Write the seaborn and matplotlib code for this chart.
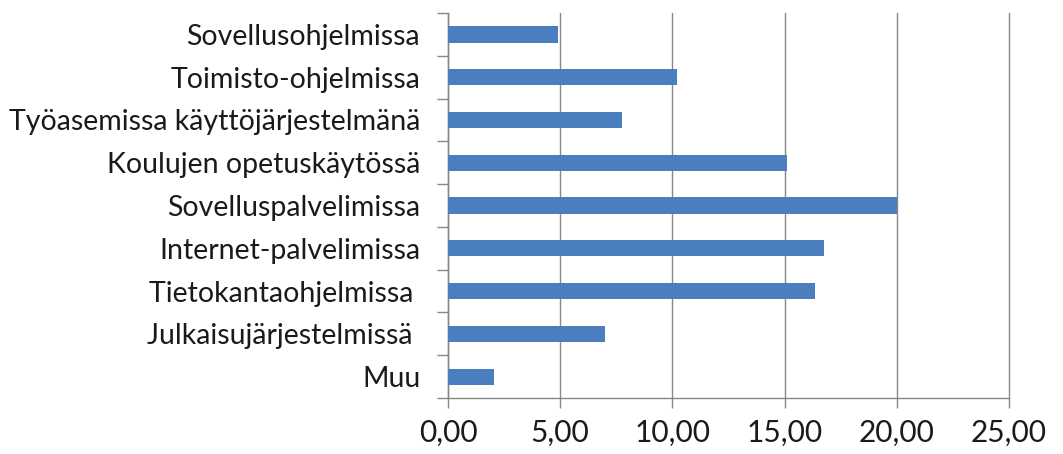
import matplotlib
matplotlib.use("Agg")
import matplotlib.pyplot as plt
import seaborn as sns
import pandas as pd
from matplotlib.ticker import FixedLocator, FuncFormatter

categories = [
    "Sovellusohjelmissa",
    "Toimisto-ohjelmissa",
    "Työasemissa käyttöjärjestelmänä",
    "Koulujen opetuskäytössä",
    "Sovelluspalvelimissa",
    "Internet-palvelimissa",
    "Tietokantaohjelmissa ",
    "Julkaisujärjestelmissä ",
    "Muu",
]
values = [4.89, 10.22, 7.74, 15.12, 19.99, 16.74, 16.34, 6.99, 2.03]
x_ticks = [0, 5, 10, 15, 20, 25]

df = pd.DataFrame({"kategoria": categories, "arvo": values})

sns.set_theme(style="white")
plt.rcParams["font.family"] = ["Lato", "DejaVu Sans"]

fig = plt.figure(figsize=(10.63, 4.54), dpi=100)
ax = fig.add_axes([0.4214, 0.1233, 0.9492 - 0.4214, 0.9714 - 0.1233])

sns.barplot(data=df, x="arvo", y="kategoria", orient="h", order=categories,
            color="#4A7EBF", saturation=1, width=0.38, linewidth=0, ax=ax, zorder=3)

grid_col = "#878787"
ax.set_xlim(0, 25)
ax.set_ylim(len(categories) - 0.5, -0.5)
ax.xaxis.set_major_locator(FixedLocator(x_ticks))
ax.xaxis.set_major_formatter(FuncFormatter(lambda v, p: f"{v:.2f}".replace(".", ",")))
ax.grid(axis="x", color=grid_col, linewidth=1.0, zorder=0)
ax.grid(axis="y", visible=False)
for gl in ax.get_xgridlines():
    gl.set_clip_on(False)

for s in ["top", "right"]:
    ax.spines[s].set_visible(False)
for s in ["left", "bottom"]:
    ax.spines[s].set_color(grid_col)
    ax.spines[s].set_linewidth(1.0)

ax.set_xlabel("")
ax.set_ylabel("")

ax.yaxis.set_minor_locator(FixedLocator([i - 0.5 for i in range(len(categories) + 1)]))
ax.tick_params(axis="y", which="major", length=0, pad=20, labelsize=20.5, labelcolor="#1a1a1a")
ax.tick_params(axis="y", which="minor", length=8, width=1.0, color=grid_col, left=True)
ax.tick_params(axis="x", which="major", length=7, width=1.0, color=grid_col, bottom=True,
               pad=8, labelsize=21.5, labelcolor="#1a1a1a")

fig.savefig("out.png", dpi=100)
